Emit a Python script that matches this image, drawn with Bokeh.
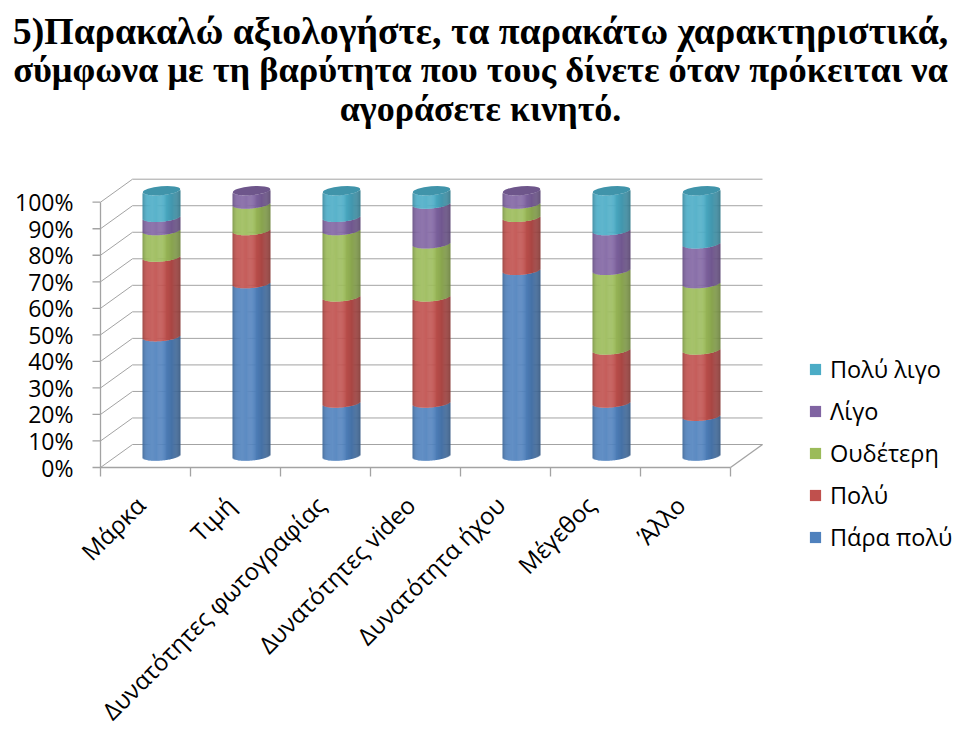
import numpy as np
from bokeh.plotting import figure
from bokeh.models import ColumnDataSource, Range1d, Legend, LegendItem
from bokeh.core.properties import value
from bokeh.embed import file_html
from bokeh.resources import INLINE

# ---------------- data ----------------
title_lines = [
    "5)Παρακαλώ αξιολογήστε, τα παρακάτω χαρακτηριστικά,",
    "σύμφωνα με τη βαρύτητα που τους δίνετε όταν πρόκειται να",
    "αγοράσετε κινητό.",
]
categories = ["Μάρκα", "Τιμή", "Δυνατότητες φωτογραφίας", "Δυνατότητες video",
              "Δυνατότητα ήχου", "Μέγεθος", "Άλλο"]
series_names = ["Πάρα πολύ", "Πολύ", "Ουδέτερη", "Λίγο", "Πολύ λιγο"]
para_poly = [45, 65, 20, 20, 70, 20, 15]
poly = [30, 20, 40, 40, 20, 20, 25]
oudeteri = [10, 10, 25, 20, 5, 30, 25]
ligo = [5, 5, 5, 15, 5, 15, 15]
poly_ligo = [10, 0, 10, 5, 0, 15, 20]
y_ticks = [0, 10, 20, 30, 40, 50, 60, 70, 80, 90, 100]
y_tick_labels = ["0%", "10%", "20%", "30%", "40%", "50%", "60%", "70%", "80%", "90%", "100%"]
colors = ["#4F81BD", "#C0504D", "#9BBB59", "#8064A2", "#4BACC6"]
series = [para_poly, poly, oudeteri, ligo, poly_ligo]

# ---------------- geometry / style ----------------
W, H = 960, 729
AX = 100         # x of the front value axis (px)
FB = 467         # floor front line (px from top)
PXX = 90.0       # px per category
PXY = 2.653      # px per percent
DX = 32 / PXX    # depth offset in x (data)
DY = 23 / PXY    # depth offset in y (data)
BAR_W = 37.6 / PXX
ELL = 4.5 / PXY  # ellipse semi-height
TILT = 1.6 / PXY
GRID = "#A3A3A3"
NSTRIP = 40

p = figure(width=W, height=H, output_backend="svg", toolbar_location=None,
           x_range=Range1d(-AX / PXX, (W - AX) / PXX),
           y_range=Range1d(-(H - FB) / PXY, FB / PXY),
           min_border=0, x_axis_location=None, y_axis_location=None,
           outline_line_color=None, background_fill_color="white")
p.xgrid.visible = False
p.ygrid.visible = False

ncat = len(categories)
nt = len(y_ticks)

# back wall gridlines
p.segment(x0=[DX] * nt, x1=[ncat + DX] * nt,
          y0=[t + DY for t in y_ticks], y1=[t + DY for t in y_ticks],
          line_color=GRID, line_width=1)
# side wall diagonals
p.segment(x0=[0] * nt, x1=[DX] * nt,
          y0=y_ticks, y1=[t + DY for t in y_ticks], line_color=GRID, line_width=1)
# value axis line + ticks + labels
p.segment(x0=[0], x1=[0], y0=[y_ticks[0]], y1=[y_ticks[-1]], line_color=GRID, line_width=1.3)
p.segment(x0=[-8 / PXX] * nt, x1=[0] * nt, y0=y_ticks, y1=y_ticks, line_color=GRID, line_width=1.3)
p.text(x=[-27 / PXX] * nt, y=y_ticks, text=y_tick_labels, text_align="right",
       text_baseline="middle", text_font=value("Open Sans"), text_font_size="23px",
       text_color="black")
# floor front edge, right edge, category ticks
p.segment(x0=[0, ncat], x1=[ncat, ncat + DX], y0=[0, 0], y1=[0, DY],
          line_color=GRID, line_width=1.3)
p.segment(x0=list(range(ncat + 1)), x1=list(range(ncat + 1)),
          y0=[0] * (ncat + 1), y1=[-9 / PXY] * (ncat + 1), line_color=GRID, line_width=1.3)


def shade(hexc, f):
    r, g, b = int(hexc[1:3], 16), int(hexc[3:5], 16), int(hexc[5:7], 16)
    if f >= 1:
        r, g, b = [c + (255 - c) * (f - 1) for c in (r, g, b)]
    else:
        r, g, b = [c * f for c in (r, g, b)]
    return "#%02x%02x%02x" % tuple(int(max(0, min(255, round(c)))) for c in (r, g, b))


u_knots = [-1.0, -0.85, -0.5, 0.0, 0.5, 0.85, 1.0]
f_knots = [0.80, 0.95, 1.12, 1.03, 0.90, 0.78, 0.70]

L, R, T, B, C = [], [], [], [], []
cap_x, cap_y, cap_c = [], [], []
for i in range(ncat):
    cx = i + 0.5 + DX / 2
    base = DY / 2
    cum = 0
    for s in range(len(series)):
        v = series[s][i]
        lo, hi = cum, cum + v
        cum = hi
        if v <= 0:
            continue
        for j in range(NSTRIP):
            u = -1 + (2 * j + 1) / NSTRIP
            off = -ELL * np.sqrt(max(0.0, 1 - u * u)) + TILT * u
            sw = BAR_W / NSTRIP
            xc = cx + u * BAR_W / 2
            L.append(xc - sw * 0.7)
            R.append(xc + sw * 0.7)
            B.append(base + lo + off)
            T.append(base + hi + off)
            C.append(shade(colors[s], float(np.interp(u, u_knots, f_knots))))
    top_s = max(s for s in range(len(series)) if series[s][i] > 0)
    cap_x.append(cx)
    cap_y.append(base + cum)
    cap_c.append(shade(colors[top_s], 0.86))

p.quad(left="l", right="r", top="t", bottom="b", fill_color="c", line_color=None,
       source=ColumnDataSource(dict(l=L, r=R, t=T, b=B, c=C)))
p.ellipse(x="x", y="y", width=BAR_W, height=2 * ELL, angle=np.arctan(1.6 / 18.8),
          fill_color="c", line_color=None,
          source=ColumnDataSource(dict(x=cap_x, y=cap_y, c=cap_c)))

# category labels (rotated)
lab_x = [i + 0.5 - 5 / PXX for i in range(ncat)]
lab_y = [-(500 - FB) / PXY] * ncat
p.text(x=lab_x, y=lab_y, text=categories, angle=np.pi / 4, text_align="right",
       text_baseline="middle", text_font=value("Open Sans"), text_font_size="24px",
       text_color="black")

# title lines
title_sizes = ["37.8px", "36.4px", "36px"]
p.text(x="x", y="y", text="t", text_font_size="s",
       source=ColumnDataSource(dict(x=[(480 - AX) / PXX] * 3,
                                    y=[(FB - by) / PXY for by in (30, 69, 108)],
                                    t=title_lines, s=title_sizes)),
       text_align="center", text_baseline="alphabetic",
       text_font=value("Liberation Serif"), text_font_style="bold", text_color="black")

# legend (proxy renderers placed outside the visible ranges)
items = []
for s in reversed(range(len(series))):
    r = p.quad(left=[-50], right=[-49], top=[-500], bottom=[-501],
               fill_color=colors[s], line_color=None)
    items.append(LegendItem(label=series_names[s], renderers=[r]))
legend = Legend(items=items, location=(808, 176), orientation="vertical",
                glyph_width=14, glyph_height=14, label_standoff=8, spacing=9,
                label_height=33, padding=0, margin=0, border_line_color=None,
                background_fill_alpha=0, label_text_font="Open Sans",
                label_text_font_size="23.5px", label_text_color="black")
p.add_layout(legend)

open("out.html", "w").write(file_html(p, INLINE))
